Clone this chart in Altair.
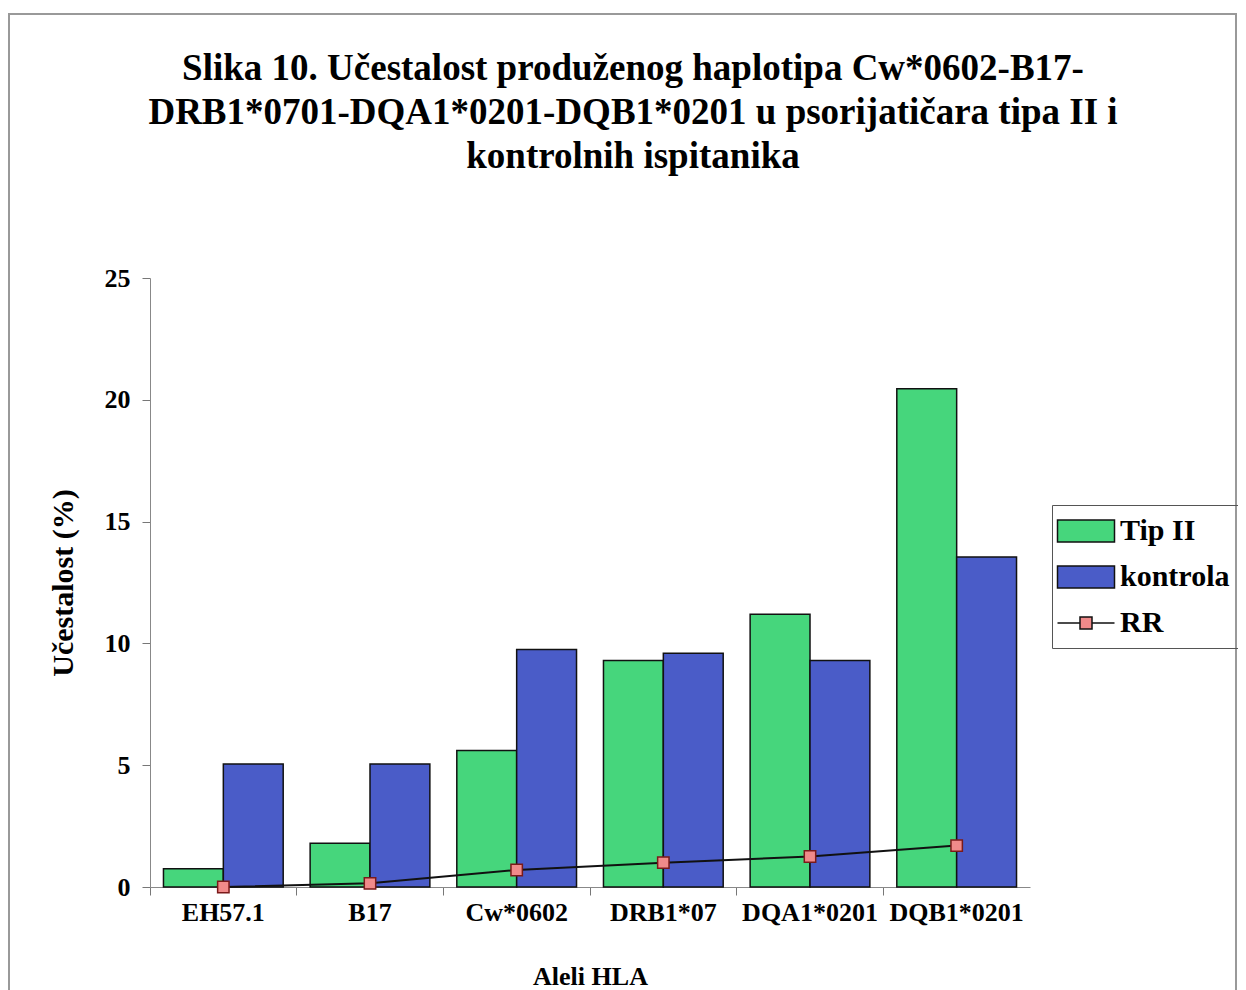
import altair as alt
import pandas as pd

categories = ["EH57.1", "B17", "Cw*0602", "DRB1*07", "DQA1*0201", "DQB1*0201"]
tip_ii = [0.75, 1.8, 5.6, 9.3, 11.2, 20.45]
kontrola = [5.05, 5.05, 9.75, 9.6, 9.3, 13.55]
rr = [0.0, 0.15, 0.7, 1.0, 1.25, 1.7]
series_names = ["Tip II", "kontrola", "RR"]
colors = ["#46d67c", "#4a5cc8", "#f08a8a"]

FONT = "Liberation Serif"

bars_df = pd.DataFrame(
    [{"cat": c, "series": "Tip II", "value": v} for c, v in zip(categories, tip_ii)]
    + [{"cat": c, "series": "kontrola", "value": v} for c, v in zip(categories, kontrola)]
)
rr_df = pd.DataFrame({"cat": categories, "value": rr, "series": ["RR"] * len(categories)})
legend_df = pd.DataFrame({"cat": [categories[0]] * 3, "value": [0, 0, 0], "series": series_names})

rect_path = "M-1.9,-0.73H1.9V0.73H-1.9Z"
rr_path = "M-1.9,0H-0.4M0.4,0H1.9M-0.4,-0.4H0.4V0.4H-0.4Z"

color_scale = alt.Scale(domain=series_names, range=colors)
shape_scale = alt.Scale(domain=series_names, range=[rect_path, rect_path, rr_path])
stroke_scale = alt.Scale(domain=series_names, range=["#111", "#111", "#111"])

legend = alt.Legend(
    title=None,
    orient="none",
    legendX=902,
    legendY=227,
    strokeColor="#555",
    padding=10,
    labelFont=FONT,
    labelFontSize=30,
    labelFontWeight="bold",
    labelColor="black",
    symbolSize=900,
    symbolStrokeColor="#111",
    symbolStrokeWidth=1.5,
    symbolOpacity=1,
    symbolOffset=8,
    labelOffset=18,
    rowPadding=15,
)

x_enc = alt.X(
    "cat:N",
    sort=categories,
    scale=alt.Scale(paddingInner=0, paddingOuter=0),
    axis=alt.Axis(
        title="Aleli HLA",
        labelAngle=0,
        bandPosition=0,
        labelFont=FONT,
        labelFontSize=26,
        labelFontWeight="bold",
        labelColor="black",
        labelPadding=4,
        tickSize=8,
        tickColor="#777",
        domainColor="#888",
        titleFont=FONT,
        titleFontSize=26,
        titleFontWeight="bold",
        titleColor="black",
        titlePadding=38,
    ),
)
y_axis = alt.Axis(
    title="Učestalost (%)",
    values=[0, 5, 10, 15, 20, 25],
    grid=False,
    labelFont=FONT,
    labelFontSize=26,
    labelFontWeight="bold",
    labelColor="black",
    labelPadding=12,
    tickSize=8,
    tickColor="#777",
    domainColor="#888",
    titleFont=FONT,
    titleFontSize=30,
    titleFontWeight="bold",
    titleColor="black",
    titlePadding=26,
)
y_scale = alt.Scale(domain=[0, 25], nice=False)

bars = (
    alt.Chart(bars_df)
    .mark_bar(stroke="#111", strokeWidth=1.5)
    .encode(
        x=x_enc,
        xOffset=alt.XOffset("series:N", sort=["Tip II", "kontrola"],
                            scale=alt.Scale(paddingOuter=0.225, paddingInner=0)),
        y=alt.Y("value:Q", scale=y_scale, axis=y_axis),
        color=alt.Color("series:N", scale=color_scale, legend=legend),
    )
)

line = (
    alt.Chart(rr_df)
    .mark_line(color="#111", strokeWidth=2)
    .encode(x=alt.X("cat:N", sort=categories), y=alt.Y("value:Q"))
)

points = (
    alt.Chart(rr_df)
    .mark_point(filled=True, shape="square", size=130, stroke="#7a1a1a", strokeWidth=1.5, opacity=1)
    .encode(
        x=alt.X("cat:N", sort=categories),
        y=alt.Y("value:Q"),
        color=alt.Color("series:N", scale=color_scale, legend=legend),
    )
)

# legend-only layer: no rows survive the filter, entries come from the scale domains
legend_layer = (
    alt.Chart(legend_df)
    .transform_filter("false")
    .mark_point(filled=True, strokeWidth=1.5)
    .encode(
        x=alt.X("cat:N", sort=categories),
        y=alt.Y("value:Q"),
        color=alt.Color("series:N", scale=color_scale, legend=legend),
        shape=alt.Shape("series:N", scale=shape_scale, legend=legend),
        stroke=alt.Stroke("series:N", scale=stroke_scale, legend=legend),
    )
)

frame_df = pd.DataFrame({"k": [1]})
frame = (
    alt.Chart(frame_df)
    .mark_rect(fillOpacity=0, stroke="#999", strokeWidth=2)
    .encode(x=alt.value(-141), x2=alt.value(1086), y=alt.value(-264), y2=alt.value(760))
)

chart = (
    alt.layer(frame, bars, line, points, legend_layer)
    .resolve_scale(color="shared", shape="shared")
    .properties(
        width=880,
        height=609,
        autosize=alt.AutoSizeParams(type="none"),
        padding={"left": 142, "top": 270, "right": 208, "bottom": 103},
        view=alt.ViewBackground(stroke="transparent", strokeWidth=0),
        title=alt.TitleParams(
            text=[
                "Slika 10. Učestalost produženog haplotipa Cw*0602-B17-",
                "DRB1*0701-DQA1*0201-DQB1*0201 u psorijatičara tipa II i",
                "kontrolnih ispitanika",
            ],
            font=FONT,
            fontSize=37,
            fontWeight="bold",
            color="black",
            lineHeight=44,
            anchor="middle",
            offset=0,
            dy=163,
            dx=43,
        ),
    )
    .configure_view(strokeWidth=0, stroke="transparent")
    .configure(background="white")
)

chart.save("out.html", embed_options={"renderer": "svg", "actions": False})
